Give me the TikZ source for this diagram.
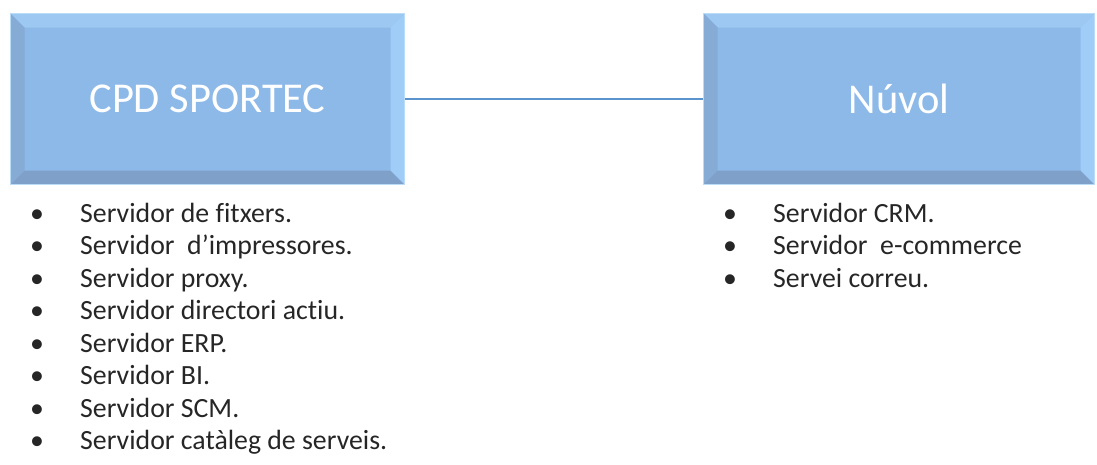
\documentclass[tikz,border=0pt]{standalone}
\usepackage{fontspec}
\setmainfont{Carlito}[Ligatures=NoCommon]
\definecolor{boxmid}{HTML}{8DB9E9}
\definecolor{bevtop}{HTML}{9CC8F2}
\definecolor{bevleft}{HTML}{86ABD5}
\definecolor{bevbot}{HTML}{7FA0C9}
\definecolor{bevright}{HTML}{A0CDF8}
\definecolor{boxline}{HTML}{BBDCF7}
\definecolor{linkblue}{HTML}{5B93CF}
\definecolor{listtext}{HTML}{262626}
\tikzset{
  bevelbox/.style={
    draw=boxline, line width=1.5pt, fill=boxmid, inner sep=0pt,
    text=white, font=\fontsize{42.5}{48}\selectfont,
    path picture={
      \def\bw{14pt}
      \coordinate (pnw) at (path picture bounding box.north west);
      \coordinate (pne) at (path picture bounding box.north east);
      \coordinate (psw) at (path picture bounding box.south west);
      \coordinate (pse) at (path picture bounding box.south east);
      \fill[bevtop] (pnw) -- (pne) -- ([xshift=-\bw,yshift=-\bw]pne) -- ([xshift=\bw,yshift=-\bw]pnw) -- cycle;
      \fill[bevleft] (pnw) -- (psw) -- ([xshift=\bw,yshift=\bw]psw) -- ([xshift=\bw,yshift=-\bw]pnw) -- cycle;
      \fill[bevbot] (psw) -- (pse) -- ([xshift=-\bw,yshift=\bw]pse) -- ([xshift=\bw,yshift=\bw]psw) -- cycle;
      \fill[bevright] (pne) -- (pse) -- ([xshift=-\bw,yshift=\bw]pse) -- ([xshift=-\bw,yshift=-\bw]pne) -- cycle;
    }
  },
  item/.style={anchor=base west, inner sep=0pt, text=listtext, font=\fontsize{27.8}{33}\selectfont},
  link/.style={draw=linkblue, line width=2.2pt}
}
\newcommand{\bul}[1]{\llap{\makebox[50pt][l]{•}}#1}
\begin{document}
\begin{tikzpicture}[x=1pt,y=-1pt]
\useasboundingbox (0,0) rectangle (1097,464);
\node[bevelbox, minimum width=394pt, minimum height=171pt] (cpd) at (207.5,99) {CPD SPORTEC};
\node[bevelbox, minimum width=391pt, minimum height=171pt] (nuvol) at (899,99) {Núvol};
\draw[link] (cpd.east) -- (nuvol.west);
\node[item] (l1) at (80,222) {\bul{Servidor de fitxers.}};
\node[item] (l2) at (80,254.5) {\bul{Servidor \ d’impressores.}};
\node[item] (l3) at (80,287) {\bul{Servidor proxy.}};
\node[item] (l4) at (80,319.5) {\bul{Servidor directori actiu.}};
\node[item] (l5) at (80,352) {\bul{Servidor ERP.}};
\node[item] (l6) at (80,384.5) {\bul{Servidor BI.}};
\node[item] (l7) at (80,417) {\bul{Servidor SCM.}};
\node[item] (l8) at (80,449.5) {\bul{Servidor catàleg de serveis.}};
\node[item] (r1) at (773,222) {\bul{Servidor CRM.}};
\node[item] (r2) at (773,254.5) {\bul{Servidor \ e-commerce}};
\node[item] (r3) at (773,287) {\bul{Servei correu.}};
\end{tikzpicture}
\end{document}
